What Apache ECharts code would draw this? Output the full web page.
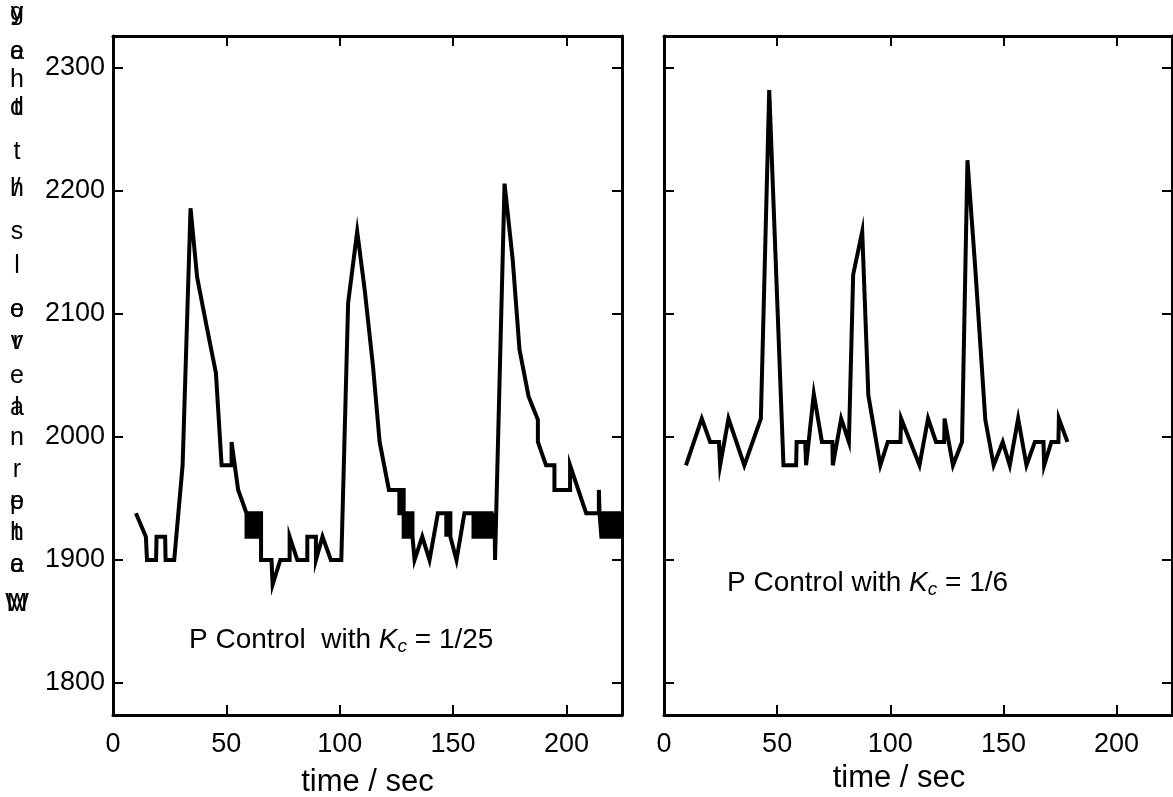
<!DOCTYPE html>
<html>
<head>
<meta charset="utf-8">
<script src="https://cdn.jsdelivr.net/npm/echarts@6/dist/echarts.min.js"></script>
<style>
html,body{margin:0;padding:0;background:#fff;}
#chart{width:1173px;height:797px;}
</style>
</head>
<body>
<div id="chart"></div>
<script>
// ---- data ----
const xTicks = [0, 50, 100, 150, 200];
const yTicks = [1800, 1900, 2000, 2100, 2200, 2300];

const leftTime = [10.1,14.5,15,19,19.2,23,23.2,27,30.7,34.2,37.1,41.3,45.4,47.9,52.3,52.3,55.2,58.9,
  58.9,60,60,61,61,62,62,63,63,64,64,65.3,65.3,
  69.9,70.4,73.8,77.9,77.9,81.3,85.7,85.7,89.5,89.5,92.4,96.1,100.7,103.7,107.7,111,114.7,117.6,121.7,
  126.3,126.3,127.3,127.3,128.2,128.2,128.2,129.2,129.2,130.2,130.2,131.2,131.2,132.1,132.1,
  133,136.4,139.6,143.3,147,147,147.8,147.8,148.8,148.8,151.5,155,159,
  159,160,160,161,161,162,162,163,163,164,164,165,165,166,166,167,167,168.3,168.3,168.5,
  172.7,176.3,179.3,183.3,187.4,187.4,191,194.7,194.7,201.6,201.6,208.7,214.3,214.3,214.6,214.6,
  215.4,215.4,216.4,216.4,217.4,217.4,218.4,218.4,219.4,219.4,220.4,220.4,221.4,221.4,222.4,222.4,223.4,223.4,224.5];
const leftLevel = [1938,1919,1900,1900,1919,1919,1900,1900,1977,2186,2130,2090,2052,1977,1977,1996,1957,1938,
  1919,1919,1938,1938,1919,1919,1938,1938,1919,1919,1938,1938,1900,
  1900,1880,1900,1900,1919,1900,1900,1919,1919,1900,1919,1900,1900,2109,2167,2120,2057,1996,1957,
  1957,1938,1938,1957,1957,1938,1919,1919,1938,1938,1919,1919,1938,1938,1919,
  1900,1919,1900,1938,1938,1919,1919,1938,1938,1919,1900,1938,1938,
  1919,1919,1938,1938,1919,1919,1938,1938,1919,1919,1938,1938,1919,1919,1938,1938,1919,1919,1938,1900,
  2206,2144,2071,2033,2014,1996,1977,1977,1957,1957,1977,1938,1938,1957,1957,1938,
  1938,1919,1919,1938,1938,1919,1919,1938,1938,1919,1919,1938,1938,1919,1919,1938,1938,1919,1919];

const rightTime = [9.7,16.7,20.4,24.3,24.8,28.5,35.5,42.8,46.5,52.8,58.4,58.6,62.4,62.8,66.2,69.8,74.4,74.6,
  78.3,81.7,83.6,87.6,90.3,95.6,98.9,104.5,104.8,112.9,116.7,120.2,123.8,124,127.7,131.7,134.1,137.6,
  142,145.7,149.7,152.8,156.5,160.2,163.9,167.7,168,171.2,174.3,174.5,178.3];
const rightLevel = [1977,2015,1996,1996,1977,2015,1977,2015,2282,1977,1977,1996,1996,1977,2035,1996,1996,1977,
  2015,1996,2132,2167,2034,1977,1996,1996,2015,1977,2015,1996,1996,2015,1977,1996,2225,2136,
  2014,1977,1996,1977,2015,1977,1996,1996,1977,1996,1996,2015,1996];

const yLabelA = ['g','a','h','t','t','/','s','l','e','r','e','a','n','r','e','h','a','W'];
const yLabelB = ['y','e','h','d','t','h','s','l','o','v','e','l','n','r','p','t','e','M'];

const xName = 'time / sec';
const noteLeft = ['P Control  with ', 'K', 'c', ' = 1/25'];
const noteRight = ['P Control with ', 'K', 'c', ' = 1/6'];

// ---- chart ----
const FONT = "'Liberation Sans', Arial, sans-serif";
const zip = (a, b) => a.map((v, i) => [v, b[i]]);

const chart = echarts.init(document.getElementById('chart'), null, {renderer: 'canvas'});

function xAxes(gi, nameGap, namePad) {
  const common = {
    gridIndex: gi, type: 'value', min: 0, max: 224.5,
    axisLine: {show: true, onZero: false, lineStyle: {color: '#000', width: 3}},
    axisTick: {show: true, inside: true, length: 10, customValues: xTicks, lineStyle: {color: '#000', width: 2}},
    splitLine: {show: false}
  };
  return [
    Object.assign({}, common, {
      position: 'bottom',
      axisLabel: {show: true, customValues: xTicks, color: '#000', fontSize: 27, fontFamily: FONT, margin: 16,
        formatter: v => String(v)},
      name: xName, nameLocation: 'middle', nameGap: nameGap,
      nameTextStyle: {color: '#000', fontSize: 31, fontFamily: FONT, padding: namePad}
    }),
    Object.assign({}, common, {position: 'top', axisLabel: {show: false}})
  ];
}
function yAxes(gi, showLabels) {
  const common = {
    gridIndex: gi, type: 'value', min: 1774, max: 2326,
    axisLine: {show: true, onZero: false, lineStyle: {color: '#000', width: 3}},
    axisTick: {show: true, inside: true, length: 10, customValues: yTicks, lineStyle: {color: '#000', width: 2}},
    splitLine: {show: false}
  };
  return [
    Object.assign({}, common, {
      position: 'left',
      axisLabel: {show: showLabels, customValues: yTicks, color: '#000', fontSize: 27, fontFamily: FONT, margin: 8,
        formatter: v => String(v)}
    }),
    Object.assign({}, common, {position: 'right', axisLabel: {show: false}})
  ];
}

// vertical stacked glyphs of the y label (as in the reference)
const slotY = [13, 52, 80, 108, 152, 189, 232, 266, 310, 342, 376, 408, 438, 470, 502, 533, 565, 604];
const graphics = [];
yLabelA.forEach((ch, i) => {
  const y = slotY[i];
  graphics.push({type: 'text', x: 17, y: y, style: {text: ch, fill: '#000', font: '25px ' + FONT, align: 'center', verticalAlign: 'middle'}});
  if (yLabelB[i] !== ch) {
    graphics.push({type: 'text', x: 17, y: y, style: {text: yLabelB[i], fill: '#000', font: '25px ' + FONT, align: 'center', verticalAlign: 'middle'}});
  }
});

function note(parts, x, y) {
  return {
    type: 'text', x: x, y: y,
    style: {
      text: '{a|' + parts[0] + '}{k|' + parts[1] + '}{s|' + parts[2] + '}{a|' + parts[3] + '}',
      align: 'left', verticalAlign: 'middle', fill: '#000',
      rich: {
        a: {fontSize: 28, fontFamily: FONT, fill: '#000'},
        k: {fontSize: 28, fontFamily: FONT, fontStyle: 'italic', fill: '#000'},
        s: {fontSize: 19, fontFamily: FONT, fontStyle: 'italic', fill: '#000', padding: [13, 0, 0, 0]}
      }
    }
  };
}
graphics.push(note(noteLeft, 189, 640));
graphics.push(note(noteRight, 727, 583));

const option = {
  backgroundColor: '#fff',
  animation: false,
  grid: [
    {left: 113, right: 551, top: 36, bottom: 82, containLabel: false, outerBoundsMode: 'none'},
    {left: 664, right: 1, top: 36, bottom: 82, containLabel: false, outerBoundsMode: 'none'}
  ],
  xAxis: [].concat(xAxes(0, 52, [0, 0, 0, 0]), xAxes(1, 44, [0, 38, 0, 0])),
  yAxis: [].concat(yAxes(0, true), yAxes(1, false)),
  series: [
    {type: 'line', xAxisIndex: 0, yAxisIndex: 0, data: zip(leftTime, leftLevel), showSymbol: false, symbol: 'none',
      lineStyle: {color: '#000', width: 4, join: 'miter', miterLimit: 10}, clip: true},
    {type: 'line', xAxisIndex: 2, yAxisIndex: 2, data: zip(rightTime, rightLevel), showSymbol: false, symbol: 'none',
      lineStyle: {color: '#000', width: 4, join: 'miter', miterLimit: 10}, clip: true}
  ],
  graphic: graphics
};
chart.setOption(option);
</script>
</body>
</html>
